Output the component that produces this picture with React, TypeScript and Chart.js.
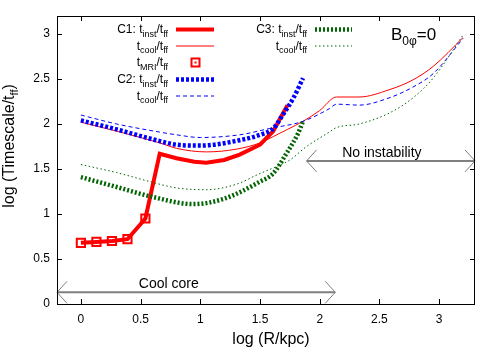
import React, { useEffect, useRef } from "react";
import { Chart, registerables } from "chart.js";

Chart.register(...registerables);

// ---- tick values ----
const xTicks = [0, 0.5, 1, 1.5, 2, 2.5, 3];
const yTicks = [0, 0.5, 1, 1.5, 2, 2.5, 3];
const xMin = -0.2;
const xMax = 3.3;
const yMin = 0;
const yMax = 3.2;

// ---- C1 ----
const c1InstR = [0, 0.13, 0.26, 0.39, 0.54, 0.66, 0.8, 0.95, 1.05, 1.2, 1.33, 1.5, 1.61, 1.73];
const c1InstT = [0.68, 0.69, 0.7, 0.72, 0.95, 1.67, 1.62, 1.58, 1.57, 1.6, 1.66, 1.77, 1.92, 2.21];
const mriR = [0, 0.13, 0.26, 0.39, 0.54];
const mriT = [0.68, 0.69, 0.7, 0.72, 0.95];
const c1CoolR = [0, 0.3, 0.66, 0.8, 1.05, 1.3, 1.5, 1.61, 1.73, 1.86, 2.0, 2.14, 2.33, 2.58, 2.78, 2.95, 3.2];
const c1CoolT = [2.02, 1.92, 1.79, 1.73, 1.69, 1.72, 1.79, 1.86, 1.94, 2.03, 2.15, 2.3, 2.3, 2.38, 2.49, 2.64, 2.96];

// ---- C2 ----
const c2InstR = [0, 0.3, 0.66, 0.8, 1.0, 1.33, 1.5, 1.61, 1.69, 1.78, 1.86];
const c2InstT = [2.04, 1.94, 1.81, 1.77, 1.76, 1.82, 1.88, 1.95, 2.1, 2.29, 2.51];
const c2CoolR = [0, 0.3, 0.66, 0.8, 1.0, 1.33, 1.58, 1.86, 2.08, 2.14, 2.33, 2.58, 2.78, 2.95, 3.2];
const c2CoolT = [2.1, 2.0, 1.91, 1.88, 1.85, 1.88, 1.95, 2.03, 2.17, 2.22, 2.21, 2.29, 2.41, 2.56, 2.95];

// ---- C3 ----
const c3InstR = [0, 0.3, 0.6, 0.94, 1.2, 1.5, 1.61, 1.72, 1.82, 1.86];
const c3InstT = [1.41, 1.3, 1.19, 1.11, 1.17, 1.36, 1.45, 1.67, 1.9, 2.03];
const c3CoolR = [0, 0.3, 0.55, 0.8, 1.05, 1.3, 1.5, 1.66, 1.75, 1.89, 2.08, 2.14, 2.33, 2.58, 2.78, 2.95, 3.2];
const c3CoolT = [1.55, 1.46, 1.37, 1.29, 1.27, 1.33, 1.45, 1.54, 1.6, 1.75, 1.91, 1.96, 2.0, 2.12, 2.29, 2.51, 2.99];

// ---- annotations (data units) ----
const coolCoreArrow = { x0: -0.2, x1: 2.13, y: 0.13, label: "Cool core", lx: 0.736, ly: 0.18 };
const noInstArrow = { x0: 1.89, x1: 3.3, y: 1.59, label: "No instability", lx: 2.52, ly: 1.63 };

const RED = "#ff0000";
const BLUE = "#0000ff";
const GREEN = "#006400";
const FONT = "'Liberation Sans', Arial, Helvetica, sans-serif";

const pts = (xs: number[], ys: number[]) => xs.map((x, i) => ({ x, y: ys[i] }));

type Part = [string, boolean];

function drawRich(
  ctx: CanvasRenderingContext2D,
  parts: Part[],
  x: number,
  y: number,
  align: "left" | "right" | "center",
  main: number,
  sub: number,
  subOff: number
) {
  const widths = parts.map(([t, s]) => {
    ctx.font = `${s ? sub : main}px ${FONT}`;
    return ctx.measureText(t).width;
  });
  const total = widths.reduce((a, b) => a + b, 0);
  let cx = align === "left" ? x : align === "right" ? x - total : x - total / 2;
  ctx.textAlign = "left";
  ctx.textBaseline = "alphabetic";
  parts.forEach(([t, s], i) => {
    ctx.font = `${s ? sub : main}px ${FONT}`;
    ctx.fillText(t, cx, s ? y + subOff : y);
    cx += widths[i];
  });
}

function arrow(ctx: CanvasRenderingContext2D, x0: number, x1: number, y: number) {
  ctx.beginPath();
  ctx.moveTo(x0, y);
  ctx.lineTo(x1, y);
  ctx.stroke();
  ctx.lineWidth = 1;
  ctx.beginPath();
  ctx.moveTo(x0 + 10, y - 11);
  ctx.lineTo(x0, y);
  ctx.lineTo(x0 + 10, y + 11);
  ctx.moveTo(x1 - 10, y - 11);
  ctx.lineTo(x1, y);
  ctx.lineTo(x1 - 10, y + 11);
  ctx.stroke();
}

const overlay = {
  id: "overlay",
  afterDraw(chart: any) {
    const { ctx, chartArea: a, scales } = chart;
    const xs = scales.x;
    const ys = scales.y;
    ctx.save();

    // arrows
    ctx.strokeStyle = "#7f7f7f";
    ctx.setLineDash([]);
    for (const ar of [coolCoreArrow, noInstArrow]) {
      ctx.lineWidth = 2;
      const py = ys.getPixelForValue(ar.y);
      arrow(ctx, xs.getPixelForValue(ar.x0), xs.getPixelForValue(ar.x1), py);
      ctx.fillStyle = "#000";
      ctx.font = `14px ${FONT}`;
      ctx.textAlign = "center";
      ctx.textBaseline = "alphabetic";
      ctx.fillText(ar.label, xs.getPixelForValue(ar.lx), ys.getPixelForValue(ar.ly));
    }

    // frame
    ctx.strokeStyle = "#000";
    ctx.lineWidth = 1;
    ctx.strokeRect(a.left + 0.5, a.top + 0.5, a.right - a.left - 1, a.bottom - a.top);
    // ticks inward
    ctx.beginPath();
    for (const v of xTicks) {
      const px = Math.round(xs.getPixelForValue(v)) + 0.5;
      ctx.moveTo(px, a.bottom);
      ctx.lineTo(px, a.bottom - 5);
      ctx.moveTo(px, a.top);
      ctx.lineTo(px, a.top + 5);
    }
    for (const v of yTicks) {
      const py = Math.round(ys.getPixelForValue(v)) + 0.5;
      ctx.moveTo(a.left, py);
      ctx.lineTo(a.left + 5, py);
      ctx.moveTo(a.right, py);
      ctx.lineTo(a.right - 5, py);
    }
    ctx.stroke();

    // axis titles
    ctx.fillStyle = "#000";
    drawRich(ctx, [["log (R/kpc)", false]], 271, 344, "center", 16, 11, 4);
    ctx.save();
    ctx.translate(14, 146);
    ctx.rotate(-Math.PI / 2);
    drawRich(ctx, [["log (Timescale/t", false], ["ff", true], [")", false]], 0, 0, "center", 16, 11, 4);
    ctx.restore();

    // B label
    drawRich(ctx, [["B", false], ["0φ", true], ["=0", false]], 391, 40, "left", 17, 12, 5);

    // legend
    const inst: Part[] = [["t", false], ["inst", true], ["/t", false], ["ff", true]];
    const cool: Part[] = [["t", false], ["cool", true], ["/t", false], ["ff", true]];
    const mri: Part[] = [["t", false], ["MRI", true], ["/t", false], ["ff", true]];
    const rows: { parts: Part[]; x: number; y: number; s0: number; s1: number; color: string; w: number; dash: number[]; marker?: boolean }[] = [
      { parts: [["C1: ", false], ...inst], x: 168, y: 29.5, s0: 176, s1: 214, color: RED, w: 4, dash: [] },
      { parts: cool, x: 168, y: 46, s0: 176, s1: 214, color: RED, w: 1, dash: [] },
      { parts: mri, x: 168, y: 62.5, s0: 176, s1: 214, color: RED, w: 0, dash: [], marker: true },
      { parts: [["C2: ", false], ...inst], x: 168, y: 79.5, s0: 176, s1: 214, color: BLUE, w: 4.5, dash: [3, 2] },
      { parts: cool, x: 168, y: 96, s0: 176, s1: 214, color: BLUE, w: 1, dash: [4, 3] },
      { parts: [["C3: ", false], ...inst], x: 307, y: 29.5, s0: 315, s1: 352, color: GREEN, w: 4.5, dash: [2, 2] },
      { parts: cool, x: 307, y: 46, s0: 315, s1: 352, color: GREEN, w: 1, dash: [1.5, 2.5] },
    ];
    for (const r of rows) {
      ctx.fillStyle = "#000";
      drawRich(ctx, r.parts, r.x, r.y + 3.5, "right", 12, 9, 3.5);
      ctx.strokeStyle = r.color;
      if (r.marker) {
        ctx.setLineDash([]);
        ctx.lineWidth = 2;
        const cx = 195.5;
        ctx.strokeRect(cx - 4, r.y - 4, 8, 8);
        ctx.fillStyle = r.color;
        ctx.fillRect(cx - 1, r.y - 1, 2, 2);
      } else {
        ctx.setLineDash(r.dash);
        ctx.lineWidth = r.w;
        ctx.beginPath();
        ctx.moveTo(r.s0, r.y);
        ctx.lineTo(r.s1, r.y);
        ctx.stroke();
      }
    }
    ctx.restore();
  },
};

export default function App() {
  const ref = useRef<HTMLCanvasElement | null>(null);
  useEffect(() => {
    if (!ref.current) return;
    const chart = new Chart(ref.current, {
      type: "scatter",
      data: {
        datasets: [
          {
            label: "C1 inst",
            data: pts(c1InstR, c1InstT),
            showLine: true,
            borderColor: RED,
            borderWidth: 4,
            pointRadius: 0,
            tension: 0,
            order: 7,
          },
          {
            label: "C1 cool",
            data: pts(c1CoolR, c1CoolT),
            showLine: true,
            borderColor: RED,
            borderWidth: 1,
            pointRadius: 0,
            cubicInterpolationMode: "monotone",
            order: 6,
          },
          {
            label: "MRI",
            data: pts(mriR, mriT),
            showLine: false,
            borderColor: RED,
            backgroundColor: "rgba(0,0,0,0)",
            borderWidth: 2,
            pointStyle: "rect",
            pointRadius: 5.8,
            order: 5,
          },
          {
            label: "C2 inst",
            data: pts(c2InstR, c2InstT),
            showLine: true,
            borderColor: BLUE,
            borderWidth: 4.5,
            borderDash: [3, 2],
            pointRadius: 0,
            cubicInterpolationMode: "monotone",
            order: 4,
          },
          {
            label: "C2 cool",
            data: pts(c2CoolR, c2CoolT),
            showLine: true,
            borderColor: BLUE,
            borderWidth: 1,
            borderDash: [4, 3],
            pointRadius: 0,
            cubicInterpolationMode: "monotone",
            order: 3,
          },
          {
            label: "C3 inst",
            data: pts(c3InstR, c3InstT),
            showLine: true,
            borderColor: GREEN,
            borderWidth: 4.5,
            borderDash: [2, 2],
            pointRadius: 0,
            cubicInterpolationMode: "monotone",
            order: 2,
          },
          {
            label: "C3 cool",
            data: pts(c3CoolR, c3CoolT),
            showLine: true,
            borderColor: GREEN,
            borderWidth: 1,
            borderDash: [1.5, 2.5],
            pointRadius: 0,
            cubicInterpolationMode: "monotone",
            order: 1,
          },
        ],
      },
      options: {
        animation: false,
        responsive: false,
        maintainAspectRatio: false,
        layout: { padding: { left: 0, right: 25, top: 16, bottom: 0 } },
        plugins: { legend: { display: false }, tooltip: { enabled: false } },
        scales: {
          x: {
            type: "linear",
            min: xMin,
            max: xMax,
            grid: { display: false, drawTicks: false },
            border: { display: false },
            afterBuildTicks: (s: any) => {
              s.ticks = xTicks.map((v) => ({ value: v }));
            },
            afterFit: (s: any) => {
              s.height = 46;
            },
            ticks: {
              padding: 8,
              color: "#000",
              font: { family: FONT, size: 12 },
              maxRotation: 0,
              callback: (v: any) => String(v),
            },
          },
          y: {
            type: "linear",
            min: yMin,
            max: yMax,
            grid: { display: false, drawTicks: false },
            border: { display: false },
            afterBuildTicks: (s: any) => {
              s.ticks = yTicks.map((v) => ({ value: v }));
            },
            afterFit: (s: any) => {
              s.width = 57;
            },
            ticks: {
              padding: 7,
              color: "#000",
              font: { family: FONT, size: 12 },
              callback: (v: any) => String(v),
            },
          },
        },
      },
      plugins: [overlay],
    });
    return () => chart.destroy();
  }, []);
  return (
    <div style={{ position: "absolute", left: 0, top: 0, width: 500, height: 350, background: "#fff" }}>
      <canvas ref={ref} width={500} height={350} style={{ display: "block" }} />
    </div>
  );
}
